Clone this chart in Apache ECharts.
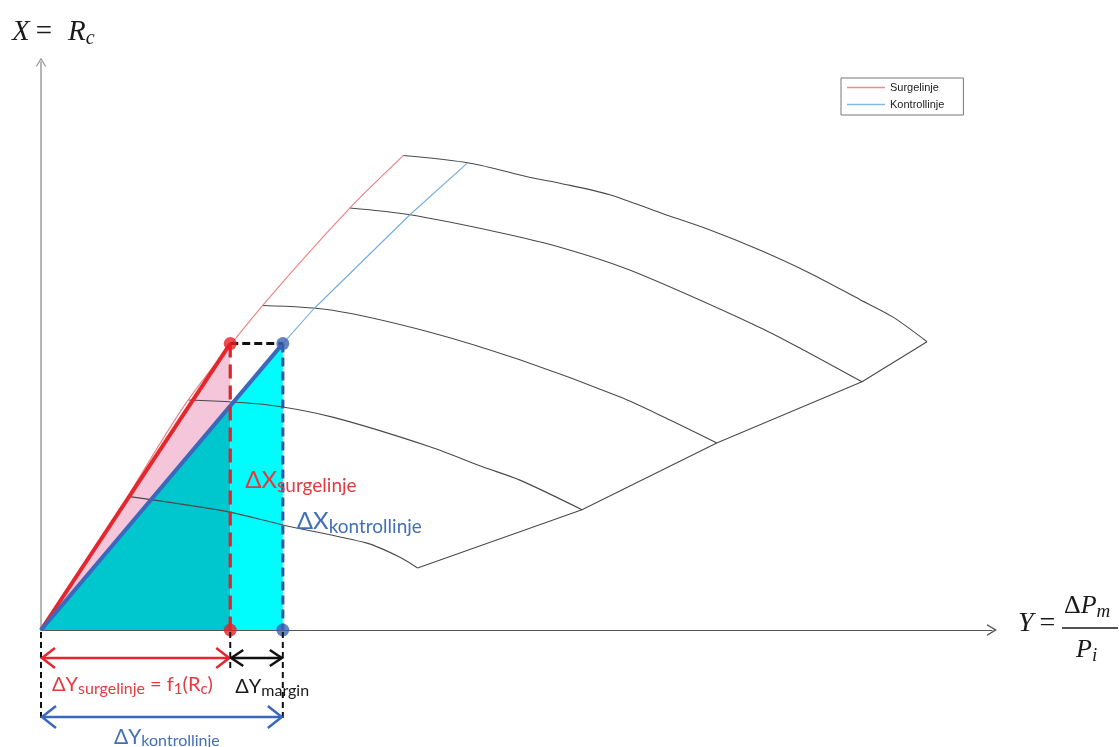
<!DOCTYPE html>
<html>
<head>
<meta charset="utf-8">
<title>Surgelinje og kontrollinje</title>
<script src="https://cdn.jsdelivr.net/npm/echarts@6/dist/echarts.min.js"></script>
<style>
  html, body { margin: 0; padding: 0; background: #ffffff; }
  #chart { width: 1119px; height: 747px; }
</style>
</head>
<body>
<div id="chart"></div>
<script>
// Compressor map: speed lines, surge line and control line (Y = ΔPm/Pi, X = Rc)
const speedLine1 = [[3.79,4.97],[4.49,4.89],[5.12,4.74],[5.43,4.68],[5.95,4.56],[6.48,4.37],[7.00,4.19],[7.52,3.98],[8.04,3.74],[8.57,3.46],[8.91,3.28],[9.27,3.02]];
const speedLine2 = [[3.23,4.42],[3.86,4.35],[4.77,4.17],[5.43,4.01],[6.16,3.77],[7.52,3.17],[8.04,2.90],[8.59,2.60]];
const speedLine3 = [[2.32,3.40],[3.05,3.35],[4.07,3.12],[5.01,2.83],[6.06,2.44],[6.58,2.20],[7.07,1.96]];
const speedLine4 = [[1.54,2.41],[2.36,2.36],[3.05,2.23],[4.07,1.92],[4.62,1.71],[5.01,1.57],[5.66,1.26]];
const speedLine5 = [[0.91,1.40],[1.95,1.24],[2.53,1.10],[3.41,0.91],[3.76,0.76],[3.94,0.65]];
const chokeLine  = [[3.94,0.65],[5.66,1.26],[7.07,1.96],[8.59,2.60],[9.27,3.02]];
const surgeLine   = [[0.91,1.40],[1.54,2.41],[2.32,3.40],[3.23,4.42],[3.79,4.97]];
const controlLine = [[2.53,3.00],[2.85,3.36],[3.86,4.35],[4.46,4.89]];

// Operating point used for the margin illustration
const RC_OP = 3.0;        // X = Rc
const DY_SURGE = 1.98;    // ΔY surgelinje = f1(Rc)
const DY_CONTROL = 2.53;  // ΔY kontrollinje

const legendNames = ['Surgelinje', 'Kontrollinje'];

const X_MAX = 9.95, Y_MAX = 5.95;
const SANS = 'Lato';
const SERIF = 'Liberation Serif';
const RED = '#e5262c', BLUE = '#3a68bd', TXT_RED = '#e33a40', TXT_BLUE = '#4270b8';
const CHEVRON = 'path://M0,10 L6,0 L12,10 L10.4,10 L6,2.7 L1.6,10 Z';

const measure = document.createElement('canvas').getContext('2d');
// Lay out a run of text pieces (main text + subscripts) left to right
function textRun(x, y, runs, color) {
  const out = [];
  let cx = x;
  runs.forEach(r => {
    const family = r.family || SANS;
    const style = r.italic ? 'italic' : 'normal';
    measure.font = style + ' ' + r.size + 'px "' + family + '"';
    out.push({
      type: 'text',
      style: {
        x: cx, y: y + (r.dy || 0), text: r.t,
        fontFamily: family, fontSize: r.size, fontStyle: style,
        fill: r.color || color, align: 'left', verticalAlign: 'middle'
      }
    });
    cx += measure.measureText(r.t).width + (r.gap || 0);
  });
  return out;
}

function arrowHead(p, dir, len, half, color, width) {
  return {
    type: 'polyline',
    shape: { points: [[p[0] + dir * len, p[1] - half], p, [p[0] + dir * len, p[1] + half]] },
    style: { stroke: color, lineWidth: width, fill: null }
  };
}
function doubleArrow(x1, x2, y, color, width, len, half) {
  return [
    { type: 'line', shape: { x1: x1, y1: y, x2: x2, y2: y }, style: { stroke: color, lineWidth: width } },
    arrowHead([x1, y], 1, len, half, color, width),
    arrowHead([x2, y], -1, len, half, color, width)
  ];
}

function renderFills(params, api) {
  const o = api.coord([0, 0]);
  const rs = api.coord([DY_SURGE, RC_OP]);
  const cs = api.coord([DY_CONTROL, RC_OP]);
  const blueAtSurge = api.coord([DY_SURGE, RC_OP * DY_SURGE / DY_CONTROL]);
  const surgeBase = api.coord([DY_SURGE, 0]);
  const controlBase = api.coord([DY_CONTROL, 0]);
  return {
    type: 'group',
    children: [
      { type: 'polygon', shape: { points: [o, rs, blueAtSurge] }, style: { fill: '#f5c6d9' } },
      { type: 'polygon', shape: { points: [o, blueAtSurge, surgeBase] }, style: { fill: '#00c6ce' } },
      { type: 'polygon', shape: { points: [surgeBase, blueAtSurge, cs, controlBase] }, style: { fill: '#00fdfd' } }
    ]
  };
}

function renderAnnotations(params, api) {
  const o = api.coord([0, 0]);
  const rs = api.coord([DY_SURGE, RC_OP]);
  const cs = api.coord([DY_CONTROL, RC_OP]);
  const xEnd = api.coord([X_MAX, 0]);
  const yEnd = api.coord([0, Y_MAX]);
  const dash = { stroke: '#111', lineWidth: 2, lineDash: [6, 4] };
  const yA = o[1] + 28, yB = o[1] + 87;
  let children = [
    { type: 'line', shape: { x1: o[0], y1: o[1] + 2, x2: o[0], y2: o[1] + 90 }, style: dash },
    { type: 'line', shape: { x1: rs[0], y1: o[1] + 2, x2: rs[0], y2: o[1] + 38 }, style: dash },
    { type: 'line', shape: { x1: cs[0], y1: o[1] + 2, x2: cs[0], y2: o[1] + 90 }, style: dash }
  ];
  children = children.concat(doubleArrow(o[0] + 1, rs[0] - 1, yA, RED, 2.5, 13, 10));
  children = children.concat(doubleArrow(rs[0] + 1, cs[0] - 1, yA, '#111', 2.5, 12, 8));
  children = children.concat(doubleArrow(o[0] + 1, cs[0] - 1, yB, BLUE, 2.5, 14, 11));

  children = children.concat(textRun(o[0] + 11, o[1] + 55, [
    { t: 'ΔY', size: 20 }, { t: 'surgelinje', size: 16, dy: 4 }, { t: ' = f', size: 20 },
    { t: '1', size: 15, dy: 4 }, { t: '(R', size: 20 }, { t: 'c', size: 15, dy: 4 }, { t: ')', size: 20 }
  ], TXT_RED));
  children = children.concat(textRun(rs[0] + 5, o[1] + 57, [
    { t: 'ΔY', size: 20 }, { t: 'margin', size: 16, dy: 4 }
  ], '#1a1a1a'));
  children = children.concat(textRun(o[0] + 73, o[1] + 107, [
    { t: 'ΔY', size: 21 }, { t: 'kontrollinje', size: 16, dy: 4 }
  ], TXT_BLUE));
  children = children.concat(textRun(rs[0] + 15, rs[1] + 137, [
    { t: 'ΔX', size: 24 }, { t: 'surgelinje', size: 19, dy: 5 }
  ], TXT_RED));
  children = children.concat(textRun(cs[0] + 14, cs[1] + 178, [
    { t: 'ΔX', size: 24 }, { t: 'kontrollinje', size: 19, dy: 5 }
  ], TXT_BLUE));

  // axis titles
  children = children.concat(textRun(yEnd[0] - 29, yEnd[1] - 30, [
    { t: 'X', size: 29, italic: true, family: SERIF, gap: 6 }, { t: '=', size: 29, family: SERIF, gap: 16 },
    { t: 'R', size: 29, italic: true, family: SERIF }, { t: 'c', size: 20, italic: true, family: SERIF, dy: 7 }
  ], '#1a1a1a'));
  children = children.concat(textRun(xEnd[0] + 26, o[1] - 6, [
    { t: 'Y', size: 28, italic: true, family: SERIF, gap: 6 }, { t: '=', size: 28, family: SERIF }
  ], '#1a1a1a'));
  const fx = xEnd[0] + 70;
  children.push({ type: 'line', shape: { x1: fx, y1: o[1] - 2, x2: fx + 56, y2: o[1] - 2 }, style: { stroke: '#1a1a1a', lineWidth: 1.3 } });
  children = children.concat(textRun(fx + 2, o[1] - 24, [
    { t: 'Δ', size: 26, family: SERIF }, { t: 'P', size: 26, italic: true, family: SERIF }, { t: 'm', size: 19, italic: true, family: SERIF, dy: 6 }
  ], '#1a1a1a'));
  children = children.concat(textRun(fx + 14, o[1] + 20, [
    { t: 'P', size: 26, italic: true, family: SERIF }, { t: 'i', size: 19, italic: true, family: SERIF, dy: 6 }
  ], '#1a1a1a'));
  return { type: 'group', children: children };
}

function speedSeries(data, smooth) {
  return {
    type: 'line', data: data, symbol: 'none', smooth: smooth, clip: false, z: 3, silent: true,
    lineStyle: { color: '#4a4a4a', width: 1.1 }
  };
}

const chart = echarts.init(document.getElementById('chart'), null, { renderer: 'canvas' });
chart.setOption({
  backgroundColor: '#ffffff',
  animation: false,
  grid: { left: 41, right: 127, top: 62, bottom: 117 },
  xAxis: {
    type: 'value', min: 0, max: X_MAX,
    axisLine: { show: true, symbol: ['none', CHEVRON], symbolSize: [12, 10], lineStyle: { color: '#555', width: 1.2 } },
    axisTick: { show: false }, axisLabel: { show: false }, splitLine: { show: false }
  },
  yAxis: {
    type: 'value', min: 0, max: Y_MAX,
    axisLine: { show: true, symbol: ['none', CHEVRON], symbolSize: [11, 9], lineStyle: { color: '#9c9c9c', width: 1.5 } },
    axisTick: { show: false }, axisLabel: { show: false }, splitLine: { show: false }
  },
  legend: {
    data: legendNames, orient: 'vertical', left: 841, top: 78,
    icon: 'rect', itemWidth: 38, itemHeight: 1.5, itemGap: 4, padding: [3, 19, 4, 6],
    borderColor: '#777', borderWidth: 1, backgroundColor: '#fff',
    textStyle: { fontFamily: 'Liberation Sans', fontSize: 11, color: '#222', lineHeight: 13 }
  },
  series: [
    { type: 'custom', renderItem: renderFills, data: [[0, 0]], clip: false, silent: true, z: 1 },
    speedSeries(speedLine1, 0.3),
    speedSeries(speedLine2, 0.3),
    speedSeries(speedLine3, 0.3),
    speedSeries(speedLine4, 0.3),
    speedSeries(speedLine5, 0.3),
    speedSeries(chokeLine, false),
    { name: 'Surgelinje', type: 'line', data: surgeLine, symbol: 'none', smooth: 0.25, clip: false, z: 4,
      lineStyle: { color: '#ef7f80', width: 1.1 }, itemStyle: { color: '#ef8a8b' } },
    { name: 'Kontrollinje', type: 'line', data: controlLine, symbol: 'none', clip: false, z: 4,
      lineStyle: { color: '#75acdc', width: 1.1 }, itemStyle: { color: '#86b7e0' } },
    // thick surge / control lines from origin to the operating point
    { type: 'line', data: [[0, 0], [DY_SURGE, RC_OP]], symbol: 'none', clip: false, z: 5, silent: true,
      lineStyle: { color: RED, width: 4 } },
    { type: 'line', data: [[0, 0], [DY_CONTROL, RC_OP]], symbol: 'none', clip: false, z: 5, silent: true,
      lineStyle: { color: BLUE, width: 4 } },
    { type: 'line', data: [[DY_SURGE, RC_OP], [DY_SURGE, 0]], symbol: 'none', clip: false, z: 6, silent: true,
      lineStyle: { color: '#d9252b', width: 3.2, type: [14, 7] } },
    { type: 'line', data: [[DY_CONTROL, RC_OP], [DY_CONTROL, 0]], symbol: 'none', clip: false, z: 6, silent: true,
      lineStyle: { color: '#2f58a8', width: 3.2, type: [9, 5] } },
    { type: 'line', data: [[DY_SURGE, RC_OP], [DY_CONTROL, RC_OP]], symbol: 'none', clip: false, z: 6, silent: true,
      lineStyle: { color: '#111', width: 3, type: [8, 4] } },
    { type: 'scatter', data: [[DY_SURGE, RC_OP], [DY_SURGE, 0]], symbolSize: 13, clip: false, z: 7, silent: true,
      itemStyle: { color: '#ea1f26' } },
    { type: 'scatter', data: [[DY_CONTROL, RC_OP], [DY_CONTROL, 0]], symbolSize: 13, clip: false, z: 7, silent: true,
      itemStyle: { color: '#3c64b4' } },
    { type: 'custom', renderItem: renderAnnotations, data: [[0, 0]], clip: false, silent: true, z: 8 }
  ]
});
</script>
</body>
</html>
